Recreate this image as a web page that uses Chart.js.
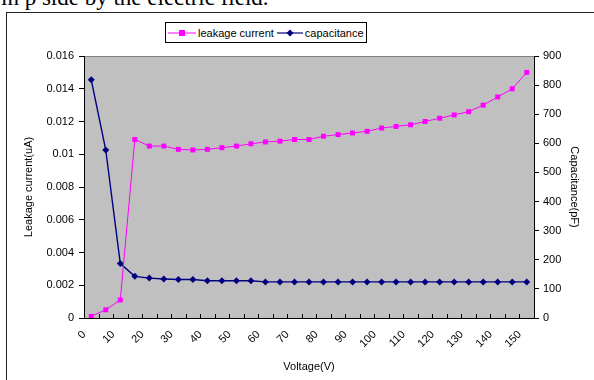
<!DOCTYPE html>
<html>
<head>
<meta charset="utf-8">
<script src="https://cdn.jsdelivr.net/npm/chart.js@4.4.0/dist/chart.umd.min.js"></script>
<style>
    html, body { margin: 0; padding: 0; background: #fff; }
    #wrap { position: relative; width: 594px; height: 380px; overflow: hidden; }
    #caption {
        position: absolute; left: 1px; top: -14px; white-space: nowrap;
        font: 23px/23px "Liberation Serif", "Times New Roman", serif; color: #000;
    }
    #frame {
        position: absolute; left: 6px; top: 12px; width: 620px; height: 420px;
        border: 1.5px solid #222; box-sizing: border-box;
    }
    #chart { position: absolute; left: 0; top: 0; }
    #legend {
        position: absolute; left: 165px; top: 22px; width: 202px; height: 21px;
        box-sizing: border-box; border: 1px solid #000; background: #fff;
        font: 11px "Liberation Sans", Arial, sans-serif; color: #000;
        display: flex; align-items: center; padding-left: 2px; white-space: nowrap;
    }
    #legend span { margin-right: 3px; flex: none; }
    #legend svg { margin-right: 2px; flex: none; }
</style>
</head>
<body>
<div id="wrap">
    <div id="caption">in p side by the electric field.</div>
    <div id="frame"></div>
    <canvas id="chart" width="594" height="380"></canvas>
    <div id="legend">
        <svg width="28" height="10"><line x1="0" y1="5" x2="28" y2="5" stroke="#ff00ff" stroke-width="1"/><rect x="11" y="2" width="6" height="6" fill="#ff00ff"/></svg>
        <span>leakage current</span>
        <svg width="26" height="10"><line x1="0" y1="5" x2="26" y2="5" stroke="#000080" stroke-width="1.2"/><polygon points="13,1.5 16.5,5 13,8.5 9.5,5" fill="#000080"/></svg>
        <span>capacitance</span>
    </div>
</div>
<script>
// ==========================
// Data
// ==========================
const voltages = [0, 5, 10, 15, 20, 25, 30, 35, 40, 45, 50, 55, 60, 65, 70, 75,
    80, 85, 90, 95, 100, 105, 110, 115, 120, 125, 130, 135, 140, 145, 150];

const tickLabels = [0, 10, 20, 30, 40, 50, 60, 70, 80, 90, 100, 110, 120, 130, 140, 150];

const leakageCurrent = [0.0001, 0.0005, 0.0011, 0.0109, 0.0105, 0.0105, 0.0103, 0.01026,
    0.0103, 0.0104, 0.0105, 0.01064, 0.01075, 0.0108, 0.0109, 0.0109, 0.0111, 0.0112,
    0.0113, 0.0114, 0.0116, 0.0117, 0.0118, 0.0120, 0.0122, 0.0124, 0.0126, 0.0130,
    0.0135, 0.0140, 0.0150];

const capacitance = [818, 577, 187, 143, 137, 134, 132, 132, 128, 128, 128, 128, 124,
    124, 124, 124, 124, 124, 124, 124, 124, 124, 124, 124, 124, 124, 124, 124, 124, 124, 124];

const leftTicks = { min: 0, max: 0.016, step: 0.002 };
const rightTicks = { min: 0, max: 900, step: 100 };

// ==========================
// Plugins
// ==========================
const plotBackground = {
    id: 'plotBackground',
    beforeDraw(chart) {
        const { ctx, chartArea: a } = chart;
        ctx.save();
        ctx.fillStyle = '#c0c0c0';
        ctx.fillRect(a.left, a.top, a.right - a.left, a.bottom - a.top);
        ctx.strokeStyle = '#808080';
        ctx.lineWidth = 1;
        ctx.strokeRect(a.left + 0.5, a.top + 0.5, a.right - a.left, a.bottom - a.top);
        ctx.restore();
    }
};

// category boundary ticks, pointing up into the plot like Excel does
const innerTicks = {
    id: 'innerTicks',
    beforeDatasetsDraw(chart) {
        const { ctx, chartArea: a } = chart;
        const n = chart.data.labels.length;
        const w = (a.right - a.left) / n;
        ctx.save();
        ctx.strokeStyle = '#000';
        ctx.lineWidth = 1;
        ctx.beginPath();
        for (let i = 1; i < n; i++) {
            const px = Math.round(a.left + i * w) + 0.5;
            ctx.moveTo(px, a.bottom);
            ctx.lineTo(px, a.bottom - 4);
        }
        ctx.stroke();
        ctx.restore();
    }
};

// ==========================
// Chart
// ==========================
Chart.defaults.font.family = '"Liberation Sans", Arial, sans-serif';
Chart.defaults.font.size = 11;
Chart.defaults.color = '#000';

new Chart(document.getElementById('chart'), {
    type: 'line',
    data: {
        labels: voltages,
        datasets: [{
            label: 'leakage current',
            data: leakageCurrent,
            yAxisID: 'y',
            borderColor: '#ff00ff',
            backgroundColor: '#ff00ff',
            borderWidth: 1,
            pointStyle: 'rect',
            pointRadius: 3.5,
            pointBorderWidth: 0,
            tension: 0
        }, {
            label: 'capacitance',
            data: capacitance,
            yAxisID: 'y1',
            borderColor: '#000080',
            backgroundColor: '#000080',
            borderWidth: 1.4,
            pointStyle: 'rectRot',
            pointRadius: 3.5,
            pointBorderWidth: 0,
            tension: 0
        }]
    },
    options: {
        responsive: false,
        animation: false,
        layout: { padding: { top: 56, left: 0, right: 0, bottom: 0 } },
        plugins: { legend: { display: false }, tooltip: { enabled: false } },
        scales: {
            x: {
                offset: true,
                grid: { offset: true, drawOnChartArea: false, drawTicks: false },
                border: { color: '#000' },
                ticks: {
                    autoSkip: false,
                    maxRotation: 45,
                    minRotation: 45,
                    padding: 10,
                    labelOffset: -7,
                    callback: (v, i) => tickLabels.includes(voltages[i]) ? String(voltages[i]) : ''
                },
                title: { display: true, text: 'Voltage(V)', padding: { top: 0, bottom: 6 } },
                afterFit: s => { s.height = 62; }
            },
            y: {
                position: 'left',
                min: leftTicks.min,
                max: leftTicks.max,
                ticks: { stepSize: leftTicks.step, padding: 5, callback: v => String(+v.toFixed(3)) },
                grid: { drawOnChartArea: false, tickLength: 5, color: '#000' },
                border: { color: '#000' },
                title: { display: true, text: 'Leakage current(uA)', padding: { top: 22, bottom: 0 } },
                afterFit: s => { s.width = 84; }
            },
            y1: {
                position: 'right',
                min: rightTicks.min,
                max: rightTicks.max,
                ticks: { stepSize: rightTicks.step, padding: 4 },
                grid: { drawOnChartArea: false, tickLength: 5, color: '#000' },
                border: { color: '#000' },
                title: { display: true, text: 'Capacitance(pF)', padding: { top: 13, bottom: 0 } },
                afterFit: s => { s.width = 60; }
            }
        }
    },
    plugins: [plotBackground, innerTicks]
});
</script>
</body>
</html>
